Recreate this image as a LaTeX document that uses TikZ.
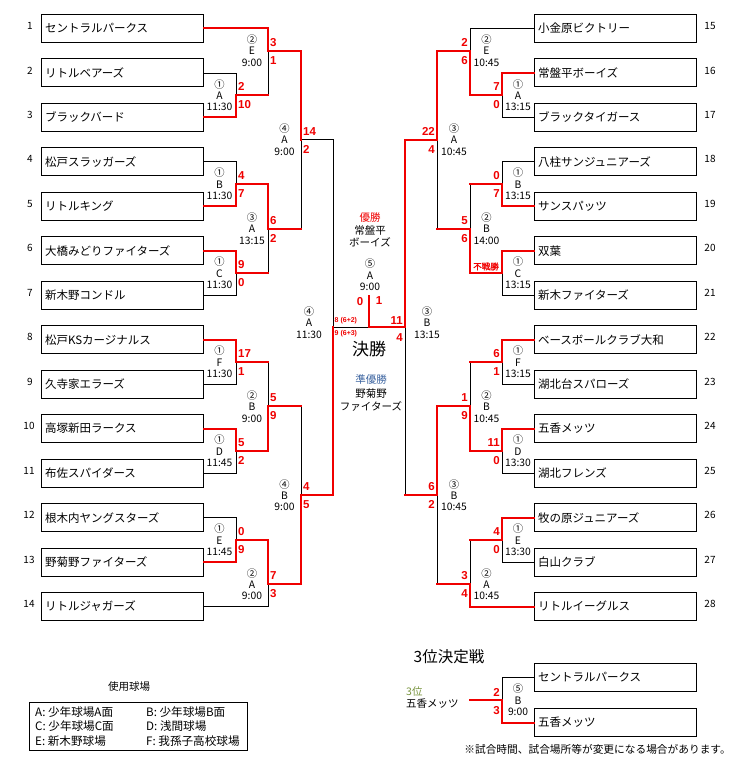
\documentclass[tikz,border=0pt]{standalone}
\usepackage{fontspec}
\setmainfont{Noto Sans CJK JP}
\newfontfamily\jpfb[FakeBold=1.6]{Noto Sans CJK JP}
\newfontfamily\scorefont{Liberation Sans}
\definecolor{winred}{RGB}{240,0,0}
\definecolor{jblue}{RGB}{60,100,160}
\definecolor{olive3}{RGB}{119,147,60}
\begin{document}
\begin{tikzpicture}[x=1pt,y=-1pt,
  team/.style={draw, line width=1pt, minimum height=28pt, text width=154pt, inner xsep=4pt, inner ysep=0pt, align=left, font=\fontsize{11.5}{13}\selectfont},
  seed/.style={inner sep=0pt, font=\fontsize{10}{12}\selectfont},
  blk/.style={line width=0.9pt, black},
  wn/.style={line width=2pt, winred, line cap=rect},
  mlabel/.style={align=center, inner sep=0pt, font=\fontsize{10.3}{11.4}\selectfont},
  sc/.style={inner sep=0pt, text=winred, font=\scorefont\bfseries\fontsize{11.5}{12}\selectfont},
  scs/.style={inner sep=0pt, text=winred, font=\scorefont\bfseries\fontsize{7}{8}\selectfont},
  ctext/.style={inner sep=0pt, font=\fontsize{10.5}{12}\selectfont},
  legtext/.style={inner sep=0pt, anchor=west, font=\fontsize{11.6}{12}\selectfont}
]
\useasboundingbox (0,0) rectangle (737,765);

% ---------- left teams ----------
\node[team] (t1)  at (122,28.5)  {セントラルパークス};
\node[team] (t2)  at (122,73.0)  {リトルベアーズ};
\node[team] (t3)  at (122,117.4) {ブラックバード};
\node[team] (t4)  at (122,161.9) {松戸スラッガーズ};
\node[team] (t5)  at (122,206.3) {リトルキング};
\node[team] (t6)  at (122,250.8) {大橋みどりファイターズ};
\node[team] (t7)  at (122,295.3) {新木野コンドル};
\node[team] (t8)  at (122,339.7) {松戸KSカージナルス};
\node[team] (t9)  at (122,384.2) {久寺家エラーズ};
\node[team] (t10) at (122,428.6) {高塚新田ラークス};
\node[team] (t11) at (122,473.1) {布佐スパイダース};
\node[team] (t12) at (122,517.6) {根木内ヤングスターズ};
\node[team] (t13) at (122,562.0) {野菊野ファイターズ};
\node[team] (t14) at (122,606.5) {リトルジャガーズ};
% ---------- right teams ----------
\node[team] (t15) at (615,28.5)  {小金原ビクトリー};
\node[team] (t16) at (615,73.0)  {常盤平ボーイズ};
\node[team] (t17) at (615,117.4) {ブラックタイガース};
\node[team] (t18) at (615,161.9) {八柱サンジュニアーズ};
\node[team] (t19) at (615,206.3) {サンスパッツ};
\node[team] (t20) at (615,250.8) {双葉};
\node[team] (t21) at (615,295.3) {新木ファイターズ};
\node[team] (t22) at (615,339.7) {ベースボールクラブ大和};
\node[team] (t23) at (615,384.2) {湖北台スパローズ};
\node[team] (t24) at (615,428.6) {五香メッツ};
\node[team] (t25) at (615,473.1) {湖北フレンズ};
\node[team] (t26) at (615,517.6) {牧の原ジュニアーズ};
\node[team] (t27) at (615,562.0) {白山クラブ};
\node[team] (t28) at (615,606.5) {リトルイーグルス};

% ---------- seed numbers ----------
\node[seed] (s1)  at (30,26.0)  {1};
\node[seed] (s2)  at (30,70.5)  {2};
\node[seed] (s3)  at (30,114.9) {3};
\node[seed] (s4)  at (30,159.4) {4};
\node[seed] (s5)  at (30,203.8) {5};
\node[seed] (s6)  at (30,248.3) {6};
\node[seed] (s7)  at (30,292.8) {7};
\node[seed] (s8)  at (30,337.2) {8};
\node[seed] (s9)  at (30,381.7) {9};
\node[seed] (s10) at (29,426.1) {10};
\node[seed] (s11) at (29,470.6) {11};
\node[seed] (s12) at (29,515.1) {12};
\node[seed] (s13) at (29,559.5) {13};
\node[seed] (s14) at (29,604.0) {14};
\node[seed] (s15) at (710,26.0)  {15};
\node[seed] (s16) at (710,70.5)  {16};
\node[seed] (s17) at (710,114.9) {17};
\node[seed] (s18) at (710,159.4) {18};
\node[seed] (s19) at (710,203.8) {19};
\node[seed] (s20) at (710,248.3) {20};
\node[seed] (s21) at (710,292.8) {21};
\node[seed] (s22) at (710,337.2) {22};
\node[seed] (s23) at (710,381.7) {23};
\node[seed] (s24) at (710,426.1) {24};
\node[seed] (s25) at (710,470.6) {25};
\node[seed] (s26) at (710,515.1) {26};
\node[seed] (s27) at (710,559.5) {27};
\node[seed] (s28) at (710,604.0) {28};

% ---------- match points ----------
\coordinate (L1) at (236,95.2);
\coordinate (L2) at (268,50.7);
\coordinate (L3) at (236,184.1);
\coordinate (L4) at (236,273.0);
\coordinate (L5) at (268,228.6);
\coordinate (L6) at (301,139.7);
\coordinate (L7) at (236,361.9);
\coordinate (L8) at (236,450.9);
\coordinate (L9) at (268,406.4);
\coordinate (L10) at (236,539.8);
\coordinate (L11) at (268,584.3);
\coordinate (L12) at (301,495.3);
\coordinate (LS) at (333,327);
\coordinate (R1) at (502,95.2);
\coordinate (R2) at (470,50.7);
\coordinate (R3) at (502,184.1);
\coordinate (R4) at (502,273.0);
\coordinate (R5) at (470,228.6);
\coordinate (R6) at (437,139.7);
\coordinate (R7) at (502,361.9);
\coordinate (R8) at (502,450.9);
\coordinate (R9) at (470,406.4);
\coordinate (R10) at (502,539.8);
\coordinate (R11) at (470,584.3);
\coordinate (R12) at (437,495.3);
\coordinate (RS) at (405,327);
\coordinate (F) at (369,296);

% ---------- black lines ----------
\draw[blk] (t2.east) -| (L1);
\draw[blk] (L1 -| L2) -- (L2);
\draw[blk] (t4.east) -| (L3);
\draw[blk] (t7.east) -| (L4);
\draw[blk] (L4 -| L5) -- (L5);
\draw[blk] (L5 -| L6) -- (L6);
\draw[blk] (t9.east) -| (L7);
\draw[blk] (t11.east) -| (L8);
\draw[blk] (L7 -| L9) -- (L9);
\draw[blk] (t12.east) -| (L10);
\draw[blk] (t14.east) -| (L11);
\draw[blk] (L9 -| L12) -- (L12);
\draw[blk] (L6) -| (LS);
\draw[blk] (LS) -- (LS -| F);
\draw[blk] (t17.west) -| (R1);
\draw[blk] (t15.west) -| (R2);
\draw[blk] (t18.west) -| (R3);
\draw[blk] (R3 -| R5) -- (R5);
\draw[blk] (t21.west) -| (R4);
\draw[blk] (R5 -| R6) -- (R6);
\draw[blk] (t23.west) -| (R7);
\draw[blk] (R7 -| R9) -- (R9);
\draw[blk] (t25.west) -| (R8);
\draw[blk] (t27.west) -| (R10);
\draw[blk] (R10 -| R11) -- (R11);
\draw[blk] (R11 -| R12) -- (R12);
\draw[blk] (R12 -| RS) -- (RS);

% ---------- red lines ----------
\draw[wn] (t3.east) -| (L1);
\draw[wn] (L1) -- (L1 -| L2);
\draw[wn] (t1.east) -| (L2);
\draw[wn] (L2) -| (L6);
\draw[wn] (t5.east) -| (L3);
\draw[wn] (L3) -| (L5);
\draw[wn] (t6.east) -| (L4);
\draw[wn] (L4) -- (L4 -| L5);
\draw[wn] (L5) -- (L5 -| L6);
\draw[wn] (t8.east) -| (L7);
\draw[wn] (L7) -- (L7 -| L9);
\draw[wn] (t10.east) -| (L8);
\draw[wn] (L8) -| (L9);
\draw[wn] (L9) -- (L9 -| L12);
\draw[wn] (t13.east) -| (L10);
\draw[wn] (L10) -| (L11);
\draw[wn] (L11) -| (L12);
\draw[wn] (L12) -| (LS);
\draw[wn] (t16.west) -| (R1);
\draw[wn] (R1) -| (R2);
\draw[wn] (R2) -| (R6);
\draw[wn] (R6) -| (RS);
\draw[wn] (RS) -| (F);
\draw[wn] (t19.west) -| (R3);
\draw[wn] (R3) -- (R3 -| R5);
\draw[wn] (t20.west) -| (R4);
\draw[wn] (R4) -| (R5);
\draw[wn] (R5) -- (R5 -| R6);
\draw[wn] (t22.west) -| (R7);
\draw[wn] (R7) -- (R7 -| R9);
\draw[wn] (t24.west) -| (R8);
\draw[wn] (R8) -| (R9);
\draw[wn] (R9) -| (R12);
\draw[wn] (t26.west) -| (R10);
\draw[wn] (R10) -- (R10 -| R11);
\draw[wn] (t28.west) -| (R11);
\draw[wn] (R11) -- (R11 -| R12);
\draw[wn] (R12) -- (R12 -| RS);

% ---------- match labels ----------
\node[mlabel] (m1)  at (219.5,95.2)  {①\\A\\11:30};
\node[mlabel] (m2)  at (252,50.7)    {②\\E\\9:00};
\node[mlabel] (m3)  at (219.5,184.1) {①\\B\\11:30};
\node[mlabel] (m4)  at (219.5,273.0) {①\\C\\11:30};
\node[mlabel] (m5)  at (252,228.6)   {③\\A\\13:15};
\node[mlabel] (m6)  at (284.5,139.7) {④\\A\\9:00};
\node[mlabel] (m7)  at (219.5,361.9) {①\\F\\11:30};
\node[mlabel] (m8)  at (219.5,450.9) {①\\D\\11:45};
\node[mlabel] (m9)  at (252,406.4)   {②\\B\\9:00};
\node[mlabel] (m10) at (219.5,539.8) {①\\E\\11:45};
\node[mlabel] (m11) at (252,584.3)   {②\\A\\9:00};
\node[mlabel] (m12) at (284.5,495.3) {④\\B\\9:00};
\node[mlabel] (mLS) at (309,322.5)   {④\\A\\11:30};
\node[mlabel] (r1)  at (518,95.2)    {①\\A\\13:15};
\node[mlabel] (r2)  at (486.5,50.7)  {②\\E\\10:45};
\node[mlabel] (r3)  at (518,184.1)   {①\\B\\13:15};
\node[mlabel] (r4)  at (518,273.0)   {①\\C\\13:15};
\node[mlabel] (r5)  at (486.5,228.6) {②\\B\\14:00};
\node[mlabel] (r6)  at (454,139.7)   {③\\A\\10:45};
\node[mlabel] (r7)  at (518,361.9)   {①\\F\\13:15};
\node[mlabel] (r8)  at (518,450.9)   {①\\D\\13:30};
\node[mlabel] (r9)  at (486.5,406.4) {②\\B\\10:45};
\node[mlabel] (r10) at (518,539.8)   {①\\E\\13:30};
\node[mlabel] (r11) at (486.5,584.3) {②\\A\\10:45};
\node[mlabel] (r12) at (454,495.3)   {③\\B\\10:45};
\node[mlabel] (rS)  at (427,322.5)   {③\\B\\13:15};
\node[mlabel] (mF)  at (370,275)     {⑤\\A\\9:00};

% ---------- scores left ----------
\node[sc, anchor=west] (a1u)  at (238,86.7)  {2};
\node[sc, anchor=west] (a1d)  at (238,104.7) {10};
\node[sc, anchor=west] (a2u)  at (270,42.2)  {3};
\node[sc, anchor=west] (a2d)  at (270,60.2)  {1};
\node[sc, anchor=west] (a3u)  at (238,175.6) {4};
\node[sc, anchor=west] (a3d)  at (238,193.6) {7};
\node[sc, anchor=west] (a4u)  at (238,264.5) {9};
\node[sc, anchor=west] (a4d)  at (238,282.5) {0};
\node[sc, anchor=west] (a5u)  at (270,220.1) {6};
\node[sc, anchor=west] (a5d)  at (270,238.1) {2};
\node[sc, anchor=west] (a6u)  at (303,131.2) {14};
\node[sc, anchor=west] (a6d)  at (303,149.2) {2};
\node[sc, anchor=west] (a7u)  at (238,353.4) {17};
\node[sc, anchor=west] (a7d)  at (238,371.4) {1};
\node[sc, anchor=west] (a8u)  at (238,442.4) {5};
\node[sc, anchor=west] (a8d)  at (238,460.4) {2};
\node[sc, anchor=west] (a9u)  at (270,397.9) {5};
\node[sc, anchor=west] (a9d)  at (270,415.9) {9};
\node[sc, anchor=west] (a10u) at (238,531.3) {0};
\node[sc, anchor=west] (a10d) at (238,549.3) {9};
\node[sc, anchor=west] (a11u) at (270,575.8) {7};
\node[sc, anchor=west] (a11d) at (270,593.8) {3};
\node[sc, anchor=west] (a12u) at (303,486.8) {4};
\node[sc, anchor=west] (a12d) at (303,504.8) {5};
\node[scs, anchor=west] (aSu) at (334.5,321) {8 (6+2)};
\node[scs, anchor=west] (aSd) at (334.5,333.5) {9 (6+3)};
% ---------- scores right ----------
\node[sc, anchor=east] (b1u)  at (500,86.7)  {7};
\node[sc, anchor=east] (b1d)  at (500,104.7) {0};
\node[sc, anchor=east] (b2u)  at (468,42.2)  {2};
\node[sc, anchor=east] (b2d)  at (468,60.2)  {6};
\node[sc, anchor=east] (b3u)  at (500,175.6) {0};
\node[sc, anchor=east] (b3d)  at (500,193.6) {7};
\node[font=\jpfb\fontsize{8.5}{9}\selectfont, text=winred, inner sep=0pt] (fusen) at (486,266.5) {不戦勝};
\node[sc, anchor=east] (b5u)  at (468,220.1) {5};
\node[sc, anchor=east] (b5d)  at (468,238.1) {6};
\node[sc, anchor=east] (b6u)  at (435,131.2) {22};
\node[sc, anchor=east] (b6d)  at (435,149.2) {4};
\node[sc, anchor=east] (b7u)  at (500,353.4) {6};
\node[sc, anchor=east] (b7d)  at (500,371.4) {1};
\node[sc, anchor=east] (b8u)  at (500,442.4) {11};
\node[sc, anchor=east] (b8d)  at (500,460.4) {0};
\node[sc, anchor=east] (b9u)  at (468,397.9) {1};
\node[sc, anchor=east] (b9d)  at (468,415.9) {9};
\node[sc, anchor=east] (b10u) at (500,531.3) {4};
\node[sc, anchor=east] (b10d) at (500,549.3) {0};
\node[sc, anchor=east] (b11u) at (468,575.8) {3};
\node[sc, anchor=east] (b11d) at (468,593.8) {4};
\node[sc, anchor=east] (b12u) at (435,486.8) {6};
\node[sc, anchor=east] (b12d) at (435,504.8) {2};
\node[sc, anchor=east] (bSu)  at (403,320.5) {11};
\node[sc, anchor=east] (bSd)  at (403,338) {4};
% ---------- final scores ----------
\node[sc] (fL) at (360,301.5) {0};
\node[sc] (fR) at (379,301) {1};

% ---------- centre texts ----------
\node[ctext, text=winred] (yu)  at (370,217.3) {優勝};
\node[ctext] (yu1) at (370,230) {常盤平};
\node[ctext] (yu2) at (370,242.3) {ボーイズ};
\node[inner sep=0pt, font=\fontsize{17}{18}\selectfont] (kessho) at (369,349) {決勝};
\node[ctext, text=jblue] (ju)  at (371,380) {準優勝};
\node[ctext] (ju1) at (371,393.5) {野菊野};
\node[ctext] (ju2) at (371,406) {ファイターズ};

% ---------- third place ----------
\node[inner sep=0pt, font=\fontsize{15.5}{16}\selectfont] (thirdt) at (449,657) {3位決定戦};
\node[team] (u1) at (615,677.5) {セントラルパークス};
\node[team] (u2) at (615,722.5) {五香メッツ};
\coordinate (T) at (502,700);
\coordinate (Tout) at (470,700);
\draw[blk] (u1.west) -| (T);
\draw[wn] (u2.west) -| (T);
\draw[wn] (T) -- (Tout);
\node[mlabel] (mT) at (518,700) {⑤\\B\\9:00};
\node[sc, anchor=east] (cu) at (500,692.5) {2};
\node[sc, anchor=east] (cd) at (500,710.5) {3};
\node[ctext, anchor=west, text=olive3] (th1) at (406,692) {3位};
\node[ctext, anchor=west] (th2) at (406,704) {五香メッツ};
\node[inner sep=0pt, anchor=east, font=\fontsize{10.7}{12}\selectfont] (note) at (731,749) {※試合時間、試合場所等が変更になる場合があります。};

% ---------- legend ----------
\node[ctext] (legt) at (129,687) {使用球場};
\node[draw, line width=1pt, minimum width=218pt, minimum height=48pt, inner sep=0pt] (legbox) at (138,726) {};
\node[legtext] (la) at (35,712)    {A: 少年球場A面};
\node[legtext] (lb) at (146,712)   {B: 少年球場B面};
\node[legtext] (lc) at (35,726.5)  {C: 少年球場C面};
\node[legtext] (ld) at (146,726.5) {D: 浅間球場};
\node[legtext] (le) at (35,741)    {E: 新木野球場};
\node[legtext] (lf) at (146,741)   {F: 我孫子高校球場};
\end{tikzpicture}
\end{document}
